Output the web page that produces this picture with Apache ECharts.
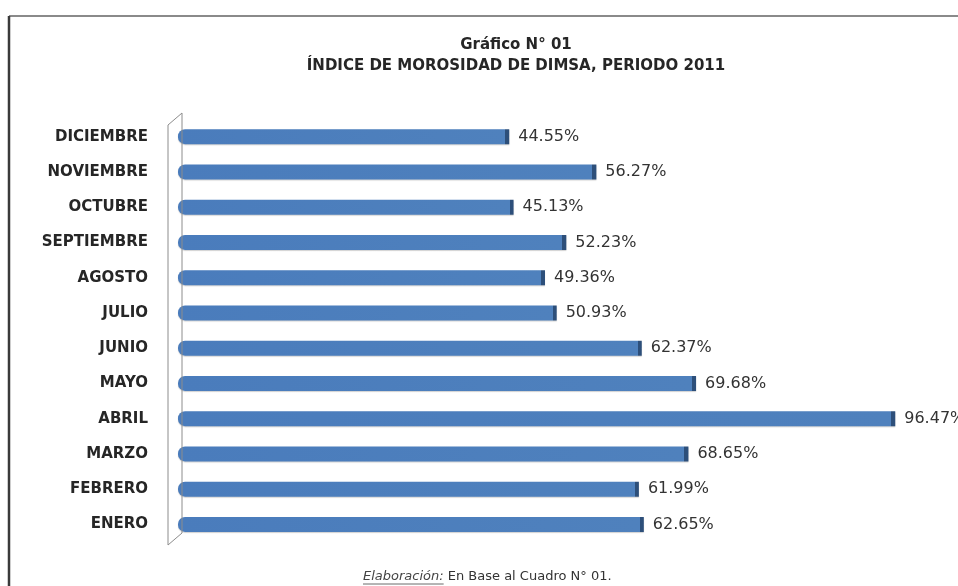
<!DOCTYPE html>
<html>
<head>
<meta charset="utf-8">
<script src="https://cdn.jsdelivr.net/npm/echarts@6/dist/echarts.min.js"></script>
<style>
  html, body { margin: 0; padding: 0; background: #ffffff; }
  #chart { width: 958px; height: 586px; }
</style>
</head>
<body>
<div id="chart"></div>
<script>
// Monthly delinquency index (%), January to December
const months = ['ENERO', 'FEBRERO', 'MARZO', 'ABRIL', 'MAYO', 'JUNIO',
                'JULIO', 'AGOSTO', 'SEPTIEMBRE', 'OCTUBRE', 'NOVIEMBRE', 'DICIEMBRE'];
const morosidad = [62.65, 61.99, 68.65, 96.47, 69.68, 62.37,
                   50.93, 49.36, 52.23, 45.13, 56.27, 44.55];
const titleLines = ['Gráfico N° 01', 'ÍNDICE DE MOROSIDAD DE DIMSA, PERIODO 2011'];
const sourceLabel = 'Elaboración:';
const sourceText = ' En Base al Cuadro N° 01.';
const axisMin = 0;
const axisMax = 100;

// Plot area layout
const W = 958, H = 586;
const gridLeft = 178, gridTop = 119, gridWidth = 743.5, gridHeight = 423;
const pxPerUnit = gridWidth / (axisMax - axisMin);

const FONT = "'DejaVu Sans', 'Liberation Sans', sans-serif";

// Each bar gets a dark cap at its end, a few pixels wide
function barStyle(v) {
  const len = v * pxPerUnit;
  const cap = Math.max(0, 1 - 4 / len);
  return {
    color: new echarts.graphic.LinearGradient(0, 0, 1, 0, [
      { offset: 0, color: '#4a7cbc' },
      { offset: cap, color: '#4f81bd' },
      { offset: Math.min(1, cap + 0.0001), color: '#2d4f7a' },
      { offset: 1, color: '#2d4f7a' }
    ]),
    borderRadius: [7, 0, 0, 7],
    shadowColor: 'rgba(0,0,0,0.18)',
    shadowOffsetY: 1,
    shadowBlur: 1
  };
}

const barData = morosidad.map(v => ({ value: v, itemStyle: barStyle(v) }));

// Underline width for the italic source label
const SOURCE_SIZE = 13;
const measureCtx = document.createElement('canvas').getContext('2d');
measureCtx.font = 'italic ' + SOURCE_SIZE + 'px ' + FONT;
const sourceLabelWidth = measureCtx.measureText(sourceLabel).width;
const sourceX = 363, sourceY = 577;

// 3D-style axis wall to the left of the bars
const wallX1 = gridLeft - 10, wallX2 = gridLeft + 4;
const wallTop = gridTop - 6, wallBottom = gridTop + gridHeight + 3, wallSkew = 12;

const chart = echarts.init(document.getElementById('chart'), null, { renderer: 'canvas' });

chart.setOption({
  backgroundColor: '#ffffff',
  animation: false,
  grid: { left: gridLeft, top: gridTop, width: gridWidth, height: gridHeight, containLabel: false },
  xAxis: {
    type: 'value',
    min: axisMin,
    max: axisMax,
    show: false
  },
  yAxis: {
    type: 'category',
    data: months,
    axisLine: { show: false },
    axisTick: { show: false },
    axisLabel: {
      margin: 30,
      fontFamily: FONT,
      fontWeight: 'bold',
      fontSize: 15,
      color: '#262626'
    }
  },
  series: [{
    type: 'bar',
    data: barData,
    barWidth: 15,
    label: {
      show: true,
      position: 'right',
      distance: 9,
      fontFamily: FONT,
      fontSize: 16,
      color: '#333333',
      formatter: p => p.value.toFixed(2) + '%'
    }
  }],
  graphic: [
    // frame edges
    { type: 'line', shape: { x1: 9, y1: 16, x2: W, y2: 16 }, style: { stroke: '#8a8a8a', lineWidth: 2 } },
    { type: 'line', shape: { x1: 9, y1: 16, x2: 9, y2: H }, style: { stroke: '#3a3a3a', lineWidth: 2.5 } },
    // axis wall
    {
      type: 'polyline',
      shape: { points: [[wallX1, wallTop + wallSkew], [wallX2, wallTop], [wallX2, wallBottom - wallSkew]] },
      style: { stroke: '#8c8c8c', lineWidth: 1, fill: null },
      z: 10
    },
    {
      type: 'polyline',
      shape: { points: [[wallX1, wallTop + wallSkew], [wallX1, wallBottom], [wallX2, wallBottom - wallSkew]] },
      style: { stroke: '#8c8c8c', lineWidth: 1, fill: null },
      z: 10
    },
    // title
    {
      type: 'text', x: 516, y: 45,
      style: { text: titleLines[0], font: 'bold 15px ' + FONT, fill: '#262626', align: 'center', verticalAlign: 'middle' }
    },
    {
      type: 'text', x: 516, y: 66,
      style: { text: titleLines[1], font: 'bold 15px ' + FONT, fill: '#262626', align: 'center', verticalAlign: 'middle' }
    },
    // source note
    {
      type: 'text', x: sourceX, y: sourceY,
      style: { text: sourceLabel, font: 'italic ' + SOURCE_SIZE + 'px ' + FONT, fill: '#444444', align: 'left', verticalAlign: 'middle' }
    },
    {
      type: 'line',
      shape: { x1: sourceX, y1: sourceY + 7, x2: sourceX + sourceLabelWidth, y2: sourceY + 7 },
      style: { stroke: '#444444', lineWidth: 0.8 }
    },
    {
      type: 'text', x: sourceX + sourceLabelWidth, y: sourceY,
      style: { text: sourceText, font: SOURCE_SIZE + 'px ' + FONT, fill: '#333333', align: 'left', verticalAlign: 'middle' }
    }
  ]
});
</script>
</body>
</html>
